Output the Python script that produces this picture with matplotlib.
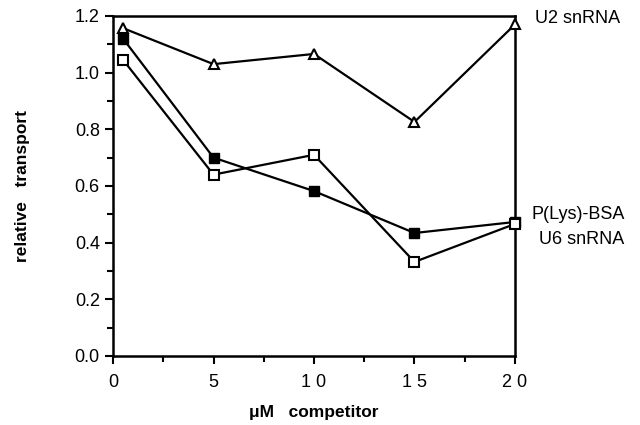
import matplotlib
matplotlib.use('Agg')
import matplotlib.pyplot as plt
from matplotlib.ticker import MultipleLocator

plt.rcParams['font.family'] = ['Liberation Sans', 'DejaVu Sans']

# competitor concentration (uM)
conc = [0.5, 5, 10, 15, 20]
u2_snrna = [1.157, 1.03, 1.066, 0.826, 1.17]
plys_bsa = [1.12, 0.70, 0.582, 0.434, 0.473]
u6_snrna = [1.045, 0.64, 0.71, 0.332, 0.466]

xticks = [0, 5, 10, 15, 20]
xtick_labels = ['0', '5', '1 0', '1 5', '2 0']
yticks = [0.0, 0.2, 0.4, 0.6, 0.8, 1.0, 1.2]

fig = plt.figure(figsize=(6.4, 4.25), dpi=100)
ax = fig.add_axes([0.1766, 0.1624, 0.628, 0.800])

ax.plot(conc, u2_snrna, color='black', lw=1.6, marker='^', ms=7,
        mfc='white', mec='black', mew=1.5, clip_on=False, zorder=3)
ax.plot(conc, plys_bsa, color='black', lw=1.6, marker='s', ms=7,
        mfc='black', mec='black', clip_on=False, zorder=3)
ax.plot(conc, u6_snrna, color='black', lw=1.6, marker='s', ms=7,
        mfc='white', mec='black', mew=1.5, clip_on=False, zorder=4)

ax.set_xlim(0, 20)
ax.set_ylim(0, 1.2)
ax.set_xticks(xticks)
ax.set_xticklabels(xtick_labels)
ax.set_yticks(yticks)
ax.set_yticklabels(['%.1f' % v for v in yticks])
ax.xaxis.set_minor_locator(MultipleLocator(2.5))
ax.yaxis.set_minor_locator(MultipleLocator(0.1))
ax.tick_params(which='major', direction='out', length=6, width=1.5, labelsize=13)
ax.tick_params(which='minor', direction='out', length=4, width=1.5)
ax.tick_params(axis='x', pad=7)
for s in ax.spines.values():
    s.set_linewidth(1.8)

ax.set_xlabel(u'\u03bcM   competitor', fontsize=12.5, fontweight='bold', labelpad=10)
ax.set_ylabel('relative   transport', fontsize=12.5, fontweight='bold', labelpad=32)

ax.text(21.0, 1.19, 'U2 snRNA', fontsize=13, va='center', ha='left', clip_on=False)
ax.text(20.8, 0.50, 'P(Lys)-BSA', fontsize=13, va='center', ha='left', clip_on=False)
ax.text(21.2, 0.41, 'U6 snRNA', fontsize=13, va='center', ha='left', clip_on=False)

fig.savefig('out.png', dpi=100)
